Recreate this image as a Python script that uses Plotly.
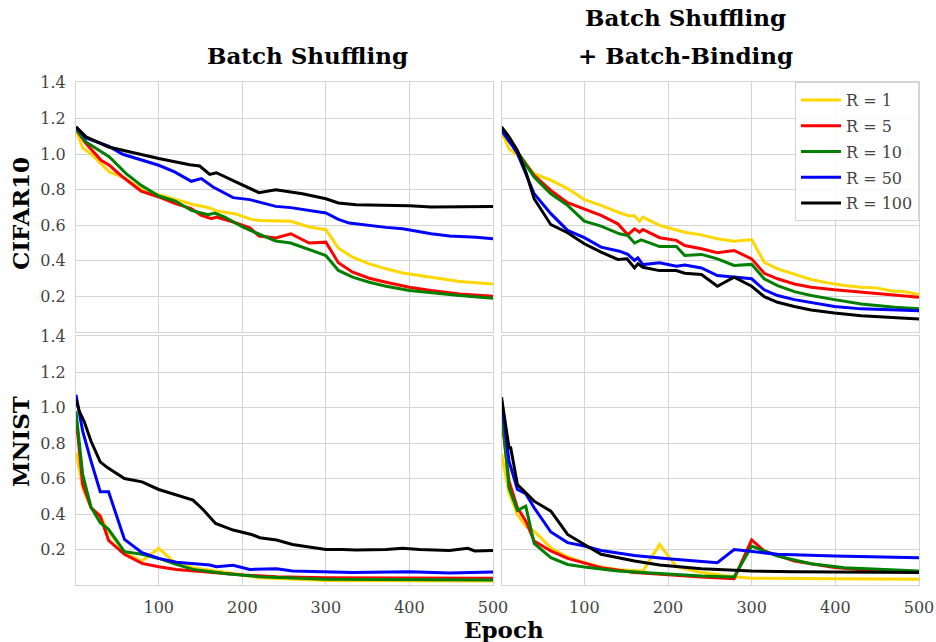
import plotly.graph_objects as go

# ---------------- data ----------------
labels = ["R = 1", "R = 5", "R = 10", "R = 50", "R = 100"]
colors = ["#FFD700", "#FF0000", "#008000", "#0000FF", "#000000"]
col_titles = ["Batch Shuffling", "Batch Shuffling", "+ Batch-Binding"]
row_titles = ["CIFAR10", "MNIST"]
x_label = "Epoch"
x_ticks = [100, 200, 300, 400, 500]
y_ticks = [0.2, 0.4, 0.6, 0.8, 1.0, 1.2, 1.4]

# CIFAR10 - Batch Shuffling
c_bs_r1_x = [1, 9, 21, 41, 57, 79, 100, 119, 141, 159, 171, 191, 211, 221, 258, 280, 300, 315, 332, 352, 372, 392, 408, 426, 460, 500]
c_bs_r1_y = [1.134, 1.035, 0.993, 0.90, 0.871, 0.806, 0.772, 0.746, 0.717, 0.70, 0.678, 0.665, 0.633, 0.627, 0.622, 0.59, 0.575, 0.471, 0.421, 0.383, 0.355, 0.332, 0.321, 0.306, 0.284, 0.27]
c_bs_r5_x = [1, 13, 31, 41, 57, 79, 100, 120, 139, 151, 163, 169, 189, 209, 220, 240, 258, 280, 300, 315, 332, 352, 372, 400, 426, 460, 500]
c_bs_r5_y = [1.14, 1.059, 0.965, 0.937, 0.871, 0.791, 0.759, 0.721, 0.693, 0.655, 0.637, 0.646, 0.618, 0.586, 0.539, 0.528, 0.552, 0.50, 0.505, 0.389, 0.336, 0.302, 0.28, 0.252, 0.233, 0.214, 0.201]
c_bs_r10_x = [1, 13, 41, 61, 79, 100, 120, 139, 159, 167, 179, 201, 221, 240, 258, 280, 300, 315, 332, 352, 372, 400, 426, 460, 500]
c_bs_r10_y = [1.14, 1.068, 0.984, 0.89, 0.824, 0.764, 0.736, 0.683, 0.659, 0.668, 0.646, 0.589, 0.548, 0.511, 0.50, 0.462, 0.43, 0.346, 0.308, 0.28, 0.257, 0.233, 0.22, 0.205, 0.19]
c_bs_r50_x = [1, 13, 40, 57, 100, 119, 139, 151, 165, 189, 209, 240, 258, 300, 315, 328, 372, 392, 426, 448, 480, 500]
c_bs_r50_y = [1.15, 1.09, 1.044, 0.999, 0.937, 0.90, 0.847, 0.862, 0.815, 0.755, 0.744, 0.706, 0.699, 0.669, 0.633, 0.612, 0.588, 0.58, 0.552, 0.539, 0.533, 0.524]
c_bs_r100_x = [1, 13, 40, 100, 137, 149, 161, 169, 191, 220, 240, 272, 300, 315, 336, 400, 426, 500]
c_bs_r100_y = [1.153, 1.097, 1.04, 0.975, 0.94, 0.933, 0.886, 0.895, 0.847, 0.783, 0.80, 0.777, 0.749, 0.725, 0.715, 0.71, 0.702, 0.706]

# CIFAR10 - Batch Shuffling + Batch-Binding
c_bb_r1_x = [1, 10, 20, 40, 60, 80, 100, 120, 140, 152, 160, 166, 170, 190, 220, 240, 259, 279, 300, 315, 331, 351, 371, 391, 411, 431, 449, 469, 480, 500]
c_bb_r1_y = [1.125, 1.031, 0.993, 0.89, 0.853, 0.806, 0.744, 0.712, 0.674, 0.655, 0.652, 0.623, 0.646, 0.599, 0.561, 0.546, 0.524, 0.51, 0.52, 0.392, 0.355, 0.323, 0.295, 0.276, 0.261, 0.252, 0.248, 0.229, 0.229, 0.21]
c_bb_r5_x = [1, 20, 40, 60, 80, 100, 120, 140, 152, 160, 166, 170, 190, 210, 220, 240, 259, 279, 300, 315, 331, 351, 371, 399, 431, 471, 500]
c_bb_r5_y = [1.13, 1.012, 0.88, 0.796, 0.727, 0.693, 0.655, 0.608, 0.546, 0.58, 0.561, 0.576, 0.53, 0.515, 0.486, 0.468, 0.445, 0.458, 0.411, 0.33, 0.299, 0.27, 0.252, 0.237, 0.223, 0.205, 0.195]
c_bb_r10_x = [1, 20, 40, 60, 80, 100, 120, 142, 152, 160, 168, 190, 210, 220, 240, 259, 279, 300, 315, 331, 351, 371, 399, 431, 471, 500]
c_bb_r10_y = [1.13, 1.012, 0.871, 0.777, 0.712, 0.623, 0.595, 0.552, 0.542, 0.50, 0.518, 0.48, 0.48, 0.43, 0.436, 0.411, 0.374, 0.38, 0.299, 0.261, 0.227, 0.205, 0.182, 0.158, 0.139, 0.13]
c_bb_r50_x = [1, 10, 20, 40, 60, 80, 100, 120, 142, 152, 160, 164, 170, 190, 210, 220, 240, 259, 279, 300, 315, 331, 351, 371, 399, 431, 471, 500]
c_bb_r50_y = [1.14, 1.078, 1.003, 0.777, 0.665, 0.571, 0.53, 0.477, 0.454, 0.436, 0.402, 0.417, 0.379, 0.389, 0.37, 0.377, 0.36, 0.317, 0.308, 0.299, 0.237, 0.205, 0.182, 0.164, 0.143, 0.13, 0.124, 0.12]
c_bb_r100_x = [1, 10, 20, 30, 40, 60, 80, 100, 120, 140, 151, 160, 164, 170, 190, 210, 220, 240, 259, 279, 300, 315, 331, 351, 371, 399, 431, 471, 500]
c_bb_r100_y = [1.153, 1.097, 1.021, 0.90, 0.749, 0.603, 0.558, 0.496, 0.449, 0.408, 0.411, 0.36, 0.383, 0.364, 0.345, 0.345, 0.33, 0.323, 0.257, 0.308, 0.257, 0.199, 0.167, 0.143, 0.124, 0.107, 0.092, 0.079, 0.073]

# MNIST - Batch Shuffling
m_bs_r1_x = [1, 9, 19, 30, 40, 59, 80, 100, 117, 141, 181, 221, 300, 500]
m_bs_r1_y = [0.75, 0.548, 0.436, 0.389, 0.304, 0.182, 0.135, 0.207, 0.135, 0.098, 0.07, 0.041, 0.026, 0.023]
m_bs_r5_x = [1, 9, 19, 30, 40, 59, 80, 100, 121, 161, 201, 241, 300, 500]
m_bs_r5_y = [0.95, 0.567, 0.436, 0.389, 0.252, 0.173, 0.122, 0.103, 0.088, 0.07, 0.056, 0.047, 0.041, 0.038]
m_bs_r10_x = [1, 9, 19, 30, 40, 59, 80, 100, 121, 141, 181, 221, 300, 500]
m_bs_r10_y = [0.98, 0.623, 0.439, 0.351, 0.314, 0.188, 0.173, 0.15, 0.116, 0.088, 0.064, 0.047, 0.032, 0.028]
m_bs_r50_x = [1, 9, 19, 30, 40, 59, 80, 100, 121, 141, 161, 169, 189, 209, 241, 260, 300, 332, 400, 448, 500]
m_bs_r50_y = [1.074, 0.868, 0.699, 0.526, 0.526, 0.257, 0.182, 0.15, 0.129, 0.122, 0.113, 0.103, 0.111, 0.088, 0.092, 0.079, 0.075, 0.07, 0.075, 0.068, 0.073]
m_bs_r100_x = [1, 5, 11, 19, 30, 39, 59, 80, 100, 121, 141, 153, 168, 189, 211, 221, 241, 260, 280, 300, 320, 336, 372, 392, 412, 448, 470, 478, 500]
m_bs_r100_y = [1.046, 0.98, 0.92, 0.811, 0.695, 0.661, 0.601, 0.582, 0.539, 0.507, 0.479, 0.426, 0.347, 0.31, 0.285, 0.267, 0.254, 0.229, 0.214, 0.20, 0.20, 0.197, 0.20, 0.207, 0.20, 0.195, 0.207, 0.192, 0.195]

# MNIST - Batch Shuffling + Batch-Binding
m_bb_r1_x = [1, 10, 20, 30, 40, 60, 80, 100, 120, 140, 170, 190, 210, 240, 279, 300, 500]
m_bb_r1_y = [0.74, 0.52, 0.398, 0.332, 0.304, 0.21, 0.158, 0.126, 0.101, 0.086, 0.079, 0.229, 0.103, 0.07, 0.047, 0.038, 0.032]
m_bb_r5_x = [1, 6, 10, 20, 30, 40, 60, 80, 100, 120, 160, 200, 240, 279, 300, 315, 351, 399, 439, 500]
m_bb_r5_y = [0.95, 0.755, 0.586, 0.436, 0.361, 0.248, 0.192, 0.15, 0.126, 0.098, 0.07, 0.056, 0.045, 0.036, 0.254, 0.192, 0.135, 0.098, 0.083, 0.075]
m_bb_r10_x = [1, 6, 10, 20, 30, 40, 60, 80, 100, 140, 200, 240, 279, 300, 331, 371, 411, 451, 500]
m_bb_r10_y = [1.0, 0.755, 0.548, 0.421, 0.445, 0.235, 0.154, 0.116, 0.101, 0.079, 0.06, 0.051, 0.045, 0.22, 0.163, 0.12, 0.098, 0.088, 0.079]
m_bb_r50_x = [1, 10, 20, 30, 40, 60, 80, 100, 120, 160, 200, 240, 259, 279, 300, 331, 399, 471, 500]
m_bb_r50_y = [1.046, 0.699, 0.539, 0.515, 0.436, 0.299, 0.239, 0.22, 0.195, 0.167, 0.148, 0.135, 0.126, 0.20, 0.188, 0.173, 0.163, 0.154, 0.154]
m_bb_r100_x = [1, 6, 10, 12, 20, 30, 40, 60, 80, 100, 120, 160, 190, 240, 300, 351, 500]
m_bb_r100_y = [1.059, 0.886, 0.774, 0.774, 0.567, 0.52, 0.473, 0.417, 0.285, 0.229, 0.173, 0.135, 0.113, 0.092, 0.079, 0.075, 0.07]

panels = [
    ("x", "y", [(c_bs_r1_x, c_bs_r1_y), (c_bs_r5_x, c_bs_r5_y), (c_bs_r10_x, c_bs_r10_y), (c_bs_r50_x, c_bs_r50_y), (c_bs_r100_x, c_bs_r100_y)]),
    ("x2", "y2", [(c_bb_r1_x, c_bb_r1_y), (c_bb_r5_x, c_bb_r5_y), (c_bb_r10_x, c_bb_r10_y), (c_bb_r50_x, c_bb_r50_y), (c_bb_r100_x, c_bb_r100_y)]),
    ("x3", "y3", [(m_bs_r1_x, m_bs_r1_y), (m_bs_r5_x, m_bs_r5_y), (m_bs_r10_x, m_bs_r10_y), (m_bs_r50_x, m_bs_r50_y), (m_bs_r100_x, m_bs_r100_y)]),
    ("x4", "y4", [(m_bb_r1_x, m_bb_r1_y), (m_bb_r5_x, m_bb_r5_y), (m_bb_r10_x, m_bb_r10_y), (m_bb_r50_x, m_bb_r50_y), (m_bb_r100_x, m_bb_r100_y)]),
]

# ---------------- figure ----------------
SERIF = "DejaVu Serif"
GRID = "#d4d4d4"
TICKC = "#444444"

fig = go.Figure()
for pi, (xa, ya, series) in enumerate(panels):
    for si, (xs, ys) in enumerate(series):
        fig.add_trace(go.Scatter(
            x=xs, y=ys, mode="lines", xaxis=xa, yaxis=ya,
            name=labels[si], legendgroup=labels[si],
            line=dict(color=colors[si], width=3),
            showlegend=(pi == 1),
        ))

W, H = 936, 642
L, R, T, B = 76, 17, 82, 57
pw, ph = W - L - R, H - T - B
xd_left = [0, (493 - L) / pw]
xd_right = [(501.5 - L) / pw, 1]
yd_top = [(H - B - 332) / ph, 1]
yd_bot = [0, (H - B - 336) / ph]

def xax(domain, anchor, show):
    return dict(domain=domain, anchor=anchor, range=[1, 500], tickvals=x_ticks,
                showticklabels=show, showgrid=True, gridcolor=GRID, gridwidth=1,
                showline=True, linecolor=GRID, linewidth=1, mirror=True, zeroline=False,
                ticks="", ticklabelstandoff=8, automargin=False,
                tickfont=dict(family=SERIF, size=16, color=TICKC))

def yax(domain, anchor, show):
    return dict(domain=domain, anchor=anchor, range=[0, 1.405], tickvals=y_ticks,
                tickformat=".1f",
                showticklabels=show, showgrid=True, gridcolor=GRID, gridwidth=1,
                showline=True, linecolor=GRID, linewidth=1, mirror=True, zeroline=False,
                ticks="", ticklabelstandoff=6, automargin=False,
                tickfont=dict(family=SERIF, size=16, color=TICKC))

def ppx(px):
    return (px - L) / pw

def ppy(py):
    return (H - B - py) / ph

title_font = dict(family=SERIF, size=23, color="black")
annotations = [
    dict(text="<b>%s</b>" % col_titles[0], x=ppx(307), y=ppy(55)),
    dict(text="<b>%s</b>" % col_titles[1], x=ppx(685), y=ppy(17)),
    dict(text="<b>%s</b>" % col_titles[2], x=ppx(685), y=ppy(55)),
    dict(text="<b>%s</b>" % row_titles[0], x=ppx(20), y=ppy(214), textangle=-90),
    dict(text="<b>%s</b>" % row_titles[1], x=ppx(20), y=ppy(442), textangle=-90),
    dict(text="<b>%s</b>" % x_label, x=ppx(504), y=ppy(629)),
]
for a in annotations:
    a.update(xref="paper", yref="paper", xanchor="center", yanchor="middle",
             showarrow=False, font=title_font)

fig.update_layout(
    width=W, height=H,
    margin=dict(l=L, r=R, t=T, b=B, autoexpand=False),
    paper_bgcolor="white", plot_bgcolor="white",
    xaxis=xax(xd_left, "y", False),
    yaxis=yax(yd_top, "x", True),
    xaxis2=xax(xd_right, "y2", False),
    yaxis2=yax(yd_top, "x2", False),
    xaxis3=xax(xd_left, "y3", True),
    yaxis3=yax(yd_bot, "x3", True),
    xaxis4=xax(xd_right, "y4", True),
    yaxis4=yax(yd_bot, "x4", False),
    annotations=annotations,
    legend=dict(x=1, y=1, xanchor="right", yanchor="top", xref="paper", yref="paper",
                bgcolor="rgba(255,255,255,0.85)", bordercolor=GRID, borderwidth=1,
                font=dict(family=SERIF, size=16, color=TICKC),
                tracegroupgap=2, itemwidth=40),
    showlegend=True,
)

fig.write_html("out.html", config={"displayModeBar": False},
               post_script="document.body.style.margin='0';document.body.style.overflow='hidden';")
